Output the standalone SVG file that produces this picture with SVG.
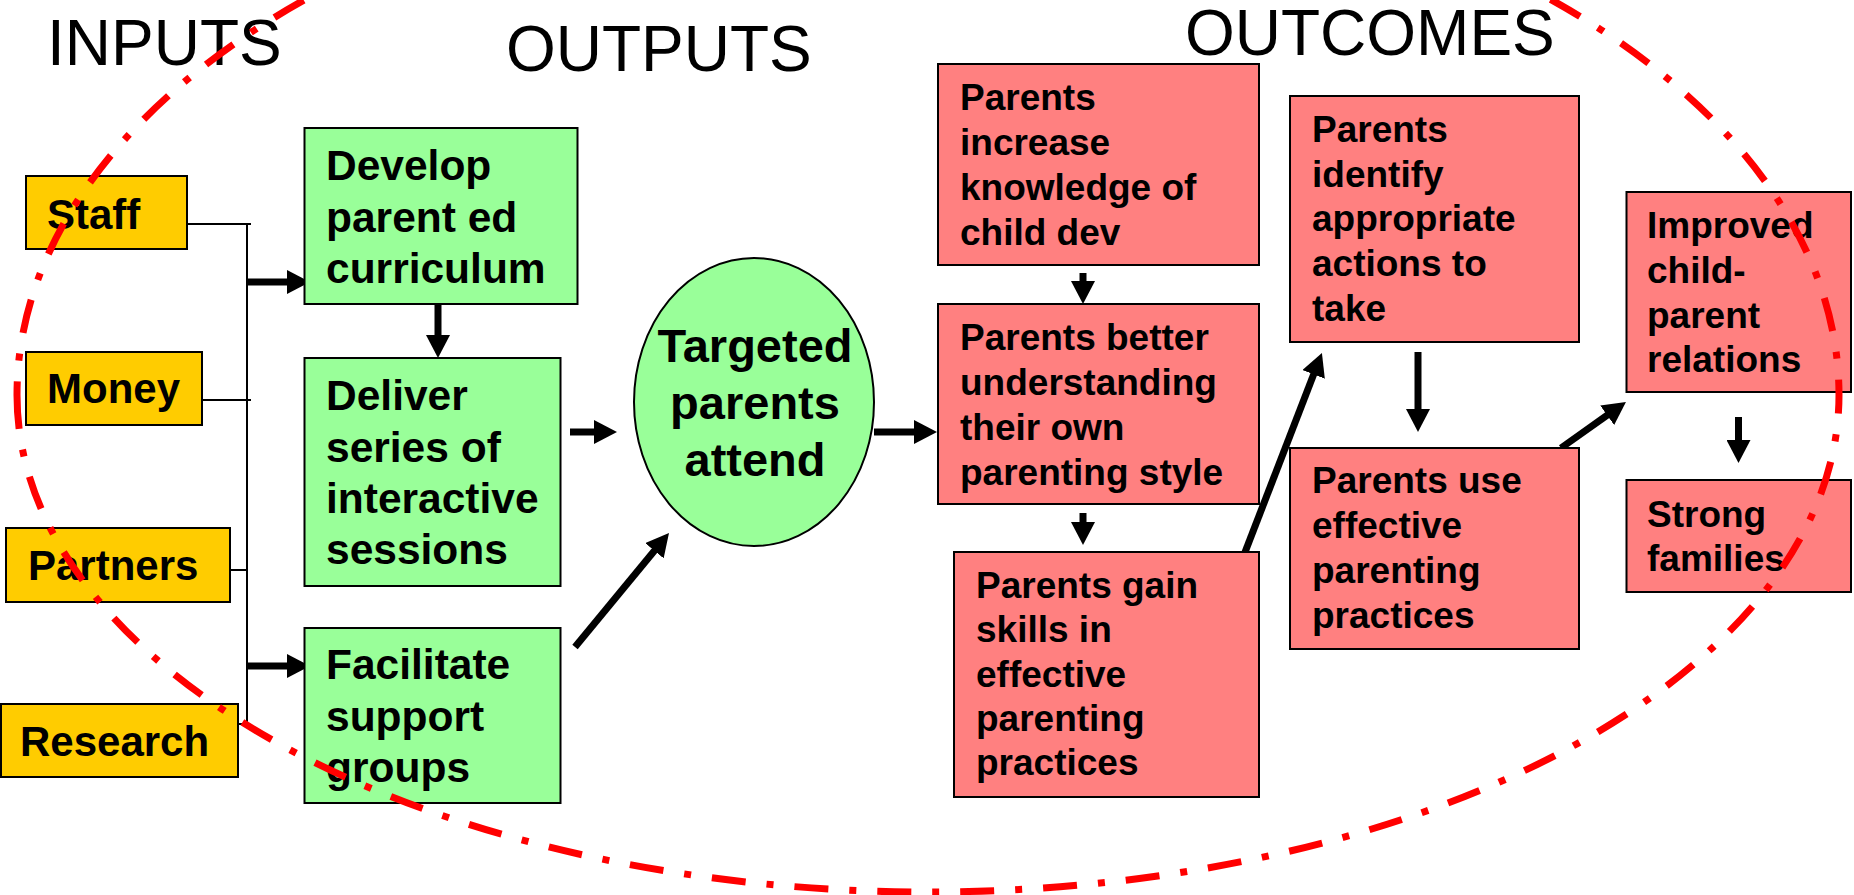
<svg xmlns="http://www.w3.org/2000/svg" width="1854" height="895" viewBox="0 0 1854 895">
<style>
text{font-family:"Liberation Sans",Arial,sans-serif;fill:#000}
.title{font-size:64px}
.inp rect{fill:#FFCC00;stroke:#000;stroke-width:2}
.inp text{font-size:42px;font-weight:bold}
.out rect,.out ellipse{fill:#99FF99;stroke:#000;stroke-width:2}
.out text{font-size:42.5px;font-weight:bold}
.oc rect{fill:#FF8080;stroke:#000;stroke-width:2}
.oc text{font-size:37px;font-weight:bold}
.thin{stroke:#000;stroke-width:2;fill:none}
.arr{stroke:#000;stroke-width:7;fill:none;marker-end:url(#head)}
.loop{fill:none;stroke:#FF0000;stroke-width:7;stroke-dasharray:34 21 7 21}
</style>
<defs>
<marker id="head" markerUnits="userSpaceOnUse" markerWidth="24" markerHeight="24" refX="1" refY="12" orient="auto" viewBox="0 0 24 24">
<path d="M0,0 L23,12 L0,24 z" fill="#000"/>
</marker>
</defs>
<rect width="1854" height="895" fill="#fff"/>
<text class="title" x="47" y="65">INPUTS</text>
<text class="title" x="506" y="71">OUTPUTS</text>
<text class="title" x="1185" y="55">OUTCOMES</text>

<g id="connectors">
<line class="thin" x1="187" y1="224" x2="251" y2="224"/>
<line class="thin" x1="202" y1="400" x2="251" y2="400"/>
<line class="thin" x1="227" y1="570" x2="247" y2="570"/>
<line class="thin" x1="227" y1="724" x2="247" y2="724"/>
<line class="thin" x1="247" y1="223" x2="247" y2="725"/>
<line class="arr" x1="247" y1="282" x2="288" y2="282"/>
<line class="arr" x1="247" y1="666" x2="288" y2="666"/>
<line class="arr" x1="438" y1="304" x2="438" y2="336"/>
<line class="arr" x1="570" y1="432" x2="595" y2="432"/>
<line class="arr" x1="575" y1="647" x2="655" y2="550"/>
<line class="arr" x1="874" y1="432" x2="915" y2="432"/>
<line class="arr" x1="1083" y1="273" x2="1083" y2="282"/>
<line class="arr" x1="1083" y1="513" x2="1083" y2="523"/>
<line class="arr" x1="1242" y1="560" x2="1314" y2="373.5"/>
<line class="arr" x1="1418" y1="352" x2="1418" y2="410"/>
<line class="arr" x1="1561" y1="448" x2="1608" y2="414.7"/>
<line class="arr" x1="1738.5" y1="417" x2="1738.5" y2="441"/>
</g>

<g id="staff" class="inp"><rect x="26" y="176" width="161" height="73"/><text x="47" y="229">Staff</text></g>
<g id="money" class="inp"><rect x="26" y="352" width="176" height="73"/><text x="47" y="403">Money</text></g>
<g id="partners" class="inp"><rect x="6" y="528" width="224" height="74"/><text x="28" y="580">Partners</text></g>
<g id="research" class="inp"><rect x="1" y="704" width="237" height="73"/><text x="20" y="756">Research</text></g>

<g id="develop" class="out"><rect x="304.5" y="128" width="273" height="176"/>
<text x="326" y="180">Develop</text><text x="326" y="232">parent ed</text><text x="326" y="283">curriculum</text></g>
<g id="deliver" class="out"><rect x="304.5" y="358" width="256" height="228"/>
<text x="326" y="410">Deliver</text><text x="326" y="462">series of</text><text x="326" y="513">interactive</text><text x="326" y="564">sessions</text></g>
<g id="facilitate" class="out"><rect x="304.5" y="628" width="256" height="175"/>
<text x="326" y="679">Facilitate</text><text x="326" y="731">support</text><text x="326" y="782">groups</text></g>
<g id="targeted" class="out"><ellipse cx="754" cy="402" rx="120" ry="144"/>
<text x="755" y="362" text-anchor="middle" style="font-size:47px">Targeted</text>
<text x="755" y="419" text-anchor="middle" style="font-size:47px">parents</text>
<text x="755" y="476" text-anchor="middle" style="font-size:47px">attend</text></g>

<g id="knowledge" class="oc"><rect x="938" y="64" width="321" height="201"/>
<text x="960" y="110">Parents</text><text x="960" y="155">increase</text><text x="960" y="200">knowledge of</text><text x="960" y="245">child dev</text></g>
<g id="understanding" class="oc"><rect x="938" y="304" width="321" height="200"/>
<text x="960" y="350">Parents better</text><text x="960" y="395">understanding</text><text x="960" y="440">their own</text><text x="960" y="485">parenting style</text></g>
<g id="skills" class="oc"><rect x="954" y="552" width="305" height="245"/>
<text x="976" y="598">Parents gain</text><text x="976" y="642">skills in</text><text x="976" y="687">effective</text><text x="976" y="731">parenting</text><text x="976" y="775">practices</text></g>
<g id="identify" class="oc"><rect x="1290" y="96" width="289" height="246"/>
<text x="1312" y="142">Parents</text><text x="1312" y="187">identify</text><text x="1312" y="231">appropriate</text><text x="1312" y="276">actions to</text><text x="1312" y="321">take</text></g>
<g id="use" class="oc"><rect x="1290" y="448" width="289" height="201"/>
<text x="1312" y="493">Parents use</text><text x="1312" y="538">effective</text><text x="1312" y="583">parenting</text><text x="1312" y="628">practices</text></g>
<g id="improved" class="oc"><rect x="1626.5" y="192" width="224.5" height="200"/>
<text x="1647" y="238">Improved</text><text x="1647" y="283">child-</text><text x="1647" y="328">parent</text><text x="1647" y="372">relations</text></g>
<g id="strong" class="oc"><rect x="1626.5" y="480" width="224.5" height="112"/>
<text x="1647" y="527">Strong</text><text x="1647" y="571">families</text></g>

<path class="loop" d="M17,395 A911,497 0 0 0 1839,395 A911,542 0 0 0 17,395 Z"/>
</svg>
